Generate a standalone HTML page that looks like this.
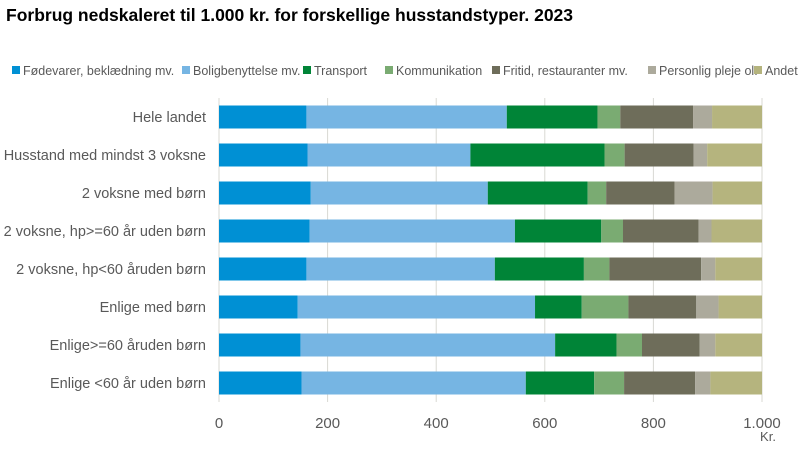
<!DOCTYPE html>
<html><head><meta charset="utf-8"><style>
body{margin:0;background:#fff;width:800px;height:459px;overflow:hidden;font-family:"Liberation Sans",sans-serif}
</style></head><body>
<svg id="chart" width="800" height="459">
<text x="6" y="21" font-size="17.5" font-weight="bold" fill="#000">Forbrug nedskaleret til 1.000 kr. for forskellige husstandstyper. 2023</text>
<g id="legend"></g>
<g id="grid"></g>
<g id="bars"></g>
<g id="ylabels"></g>
<g id="xlabels"></g>
<text x="768" y="441" font-size="13" fill="#595959" text-anchor="middle">Kr.</text>
</svg>
<script>
const categories=["Hele landet","Husstand med mindst 3 voksne","2 voksne med børn","2 voksne, hp>=60 år uden børn","2 voksne, hp<60 åruden børn","Enlige med børn","Enlige>=60 åruden børn","Enlige <60 år uden børn"];
const seriesNames=["Fødevarer, beklædning mv.","Boligbenyttelse mv.","Transport","Kommunikation","Fritid, restauranter mv.","Personlig pleje ol.","Andet"];
const food=[161,163,169,167,161,145,150,152];
const housing=[369,300,326,378,347,437,469,413];
const transport=[167,247,184,159,164,86,113,126];
const communication=[42,37,34,40,47,86,47,55];
const leisure=[134,127,126,139,169,125,106,131];
const care=[35,25,70,24,26,41,29,28];
const other=[92,101,91,93,86,80,86,95];
const xTicks=[0,200,400,600,800,1000];
const xTickLabels=["0","200","400","600","800","1.000"];
const series=[food,housing,transport,communication,leisure,care,other];
const colors=["#0090d4","#76b5e3","#008437","#7aab72","#6e6d5a","#acaa9c","#b5b47e"];
const ns="http://www.w3.org/2000/svg";
const X0=219,X1=762,Y0=98,band=38,barH=23;
const xs=v=>X0+(v/1000)*(X1-X0);
const yc=i=>Y0+band*i+band/2;
function mk(tag,attrs,parent){const e=document.createElementNS(ns,tag);for(const k in attrs)e.setAttribute(k,attrs[k]);document.getElementById(parent).appendChild(e);return e;}
xTicks.forEach((t,i)=>{
 const l=mk("line",{x1:xs(t),x2:xs(t),y1:Y0,y2:Y0+band*8,stroke:"#d9d9d3","stroke-width":1},"grid");
 
 
 const tx=mk("text",{x:xs(t),y:428,"font-size":15,fill:"#595959","text-anchor":"middle"},"xlabels");
 tx.textContent=xTickLabels[i];
 
 
});
categories.forEach((c,i)=>{
 let cum=0;
 series.forEach((s,j)=>{
  const r=mk("rect",{x:xs(cum),y:yc(i)-barH/2,width:xs(cum+s[i])-xs(cum),height:barH,fill:colors[j]},"bars");
  
  
  cum+=s[i];
 });
 const t=mk("text",{x:206,y:yc(i)+5,"font-size":14.5,fill:"#595959","text-anchor":"end"},"ylabels");
 t.textContent=c;
 
 
});
const lx=[12,182,303,385,492,648,754];
seriesNames.forEach((n,j)=>{
 const r=mk("rect",{x:lx[j],y:66,width:8,height:8,fill:colors[j]},"legend");
 
 
 const t=mk("text",{x:lx[j]+11,y:75,"font-size":12.5,fill:"#595959"},"legend");
 t.textContent=n;
 
 
});
</script>
</body></html>
